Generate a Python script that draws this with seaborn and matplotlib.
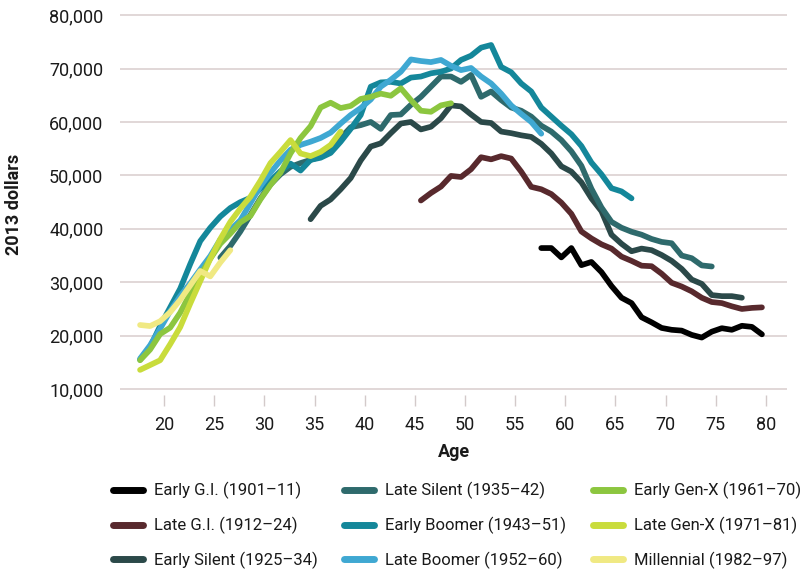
import pandas as pd
import seaborn as sns
import matplotlib.pyplot as plt
import numpy as np
from matplotlib.ticker import FuncFormatter

# Cohort names, colours and the age at which each series starts
cohorts = ['Early G.I. (1901–11)', 'Late G.I. (1912–24)', 'Early Silent (1925–34)',
           'Late Silent (1935–42)', 'Early Boomer (1943–51)', 'Late Boomer (1952–60)',
           'Early Gen-X (1961–70)', 'Late Gen-X (1971–81)', 'Millennial (1982–97)']
colors = ['#000000', '#58292d', '#2b4949', '#2e6a6c', '#14879a',
          '#3fa8d2', '#8cc63f', '#c9dc3c', '#f0e983']
start_ages = [57.6, 45.6, 34.6, 25.6, 17.6, 17.6, 17.6, 17.6, 17.6]

# Median income, 2013 dollars, one value per year of age
early_gi = [36400, 36400, 34650, 36400, 33200, 33800, 31900, 29300, 27100, 26100,
            23450, 22500, 21450, 21100, 20950, 20150, 19650, 20750, 21400, 21100,
            21850, 21650, 20250]
late_gi = [45300, 46700, 47900, 49900, 49700, 51150, 53400, 53000, 53600, 53150,
           50700, 47850, 47400, 46500, 44900, 42800, 39500, 38200, 37100, 36300,
           34800, 34000, 33100, 33000, 31600, 29900, 29200, 28300, 27100, 26300,
           26100, 25500, 25000, 25200, 25300]
early_silent = [41800, 44300, 45500, 47400, 49500, 52800, 55400, 56000, 57900, 59700,
                60000, 58600, 59100, 60700, 63100, 62900, 61400, 60000, 59800, 58200,
                57900, 57500, 57200, 55900, 54100, 51700, 50700, 48700, 45700, 43300,
                38900, 37200, 35800, 36300, 36000, 35100, 34000, 32500, 30500, 29700,
                27600, 27400, 27400, 27100]
late_silent = [34600, 36800, 39500, 42600, 45700, 48300, 50200, 51600, 52300, 52900,
               53500, 54800, 57000, 59000, 59400, 60000, 58700, 61300, 61400, 63200,
               64700, 66600, 68500, 68500, 67500, 68800, 64700, 65700, 64100, 62700,
               62100, 61000, 59300, 58200, 56600, 54500, 51800, 47500, 44000, 41300,
               40200, 39450, 38900, 38100, 37550, 37300, 35000, 34500, 33150, 32950]
early_boomer = [15500, 17900, 21800, 25300, 28800, 33400, 37700, 40200, 42300, 43900,
                45000, 45800, 47500, 49000, 50800, 52200, 50900, 52900, 53300, 54200,
                56300, 58700, 61300, 66600, 67400, 67500, 67200, 68300, 68500, 69100,
                69400, 70000, 71600, 72400, 73900, 74400, 70300, 69300, 67200, 65700,
                62700, 61000, 59300, 57700, 55500, 52400, 50200, 47600, 47000, 45700]
late_boomer = [15700, 18200, 21300, 24600, 27400, 29800, 32400, 34900, 38000, 39800,
               41600, 44800, 48000, 50500, 52800, 54800, 55700, 56300, 57000, 58000,
               59700, 61300, 62600, 64200, 66600, 67900, 69400, 71700, 71400, 71200,
               71600, 70500, 69700, 70100, 68500, 67200, 65300, 63100, 61500, 60000,
               57800]
early_genx = [15400, 17400, 20300, 21500, 24300, 27900, 31300, 34400, 37200, 39100,
              41200, 42400, 45500, 48200, 50500, 54100, 57000, 59200, 62700, 63600,
              62600, 63000, 64300, 64700, 65300, 64900, 66300, 64100, 62100, 61900,
              63100, 63500]
late_genx = [13600, 14500, 15400, 18400, 21600, 26000, 30200, 34400, 38100, 41300,
             43800, 46000, 49000, 52300, 54400, 56600, 54100, 53600, 54400, 55700,
             58200]
millennial = [22000, 21800, 22700, 24400, 26700, 29400, 32100, 31100, 33700, 36000]

series = [early_gi, late_gi, early_silent, late_silent, early_boomer,
          late_boomer, early_genx, late_genx, millennial]

# long table for seaborn
rows = []
for name, start, vals in zip(cohorts, start_ages, series):
    for i, v in enumerate(vals):
        rows.append({'cohort': name, 'age': start + i, 'income': v})
df = pd.DataFrame(rows)

sns.set_theme(style='white')
plt.rcParams['font.family'] = ['Roboto', 'DejaVu Sans']
plt.rcParams['text.color'] = '#1a1a1a'
plt.rcParams['axes.labelcolor'] = '#1a1a1a'
plt.rcParams['xtick.color'] = '#1a1a1a'
plt.rcParams['ytick.color'] = '#1a1a1a'

fig = plt.figure(figsize=(8.09, 5.73), dpi=100)
ax = fig.add_axes([120 / 809, 1 - 395 / 573, 667 / 809, 381 / 573])

sns.lineplot(data=df, x='age', y='income', hue='cohort', hue_order=cohorts,
             palette=colors, linewidth=4.1, sort=False, estimator=None, ax=ax,
             solid_capstyle='round', solid_joinstyle='round')

ax.set_xlim(15.6, 82.1)
ax.set_ylim(8900, 80200)
ax.set_xticks(np.arange(20, 81, 5))
ax.set_yticks(np.arange(10000, 80001, 10000))
ax.yaxis.set_major_formatter(FuncFormatter(lambda v, p: f'{v:,.0f}'))

ax.yaxis.grid(True, color='#dcd1d1', linewidth=1.2)
ax.xaxis.grid(False)
ax.set_axisbelow(True)
for s in ax.spines.values():
    s.set_visible(False)

ax.tick_params(axis='x', which='major', bottom=True, length=8, width=1,
               color='#d3caca', direction='out', pad=7, labelsize=13)
ax.tick_params(axis='y', length=0, pad=12, labelsize=13)

ax.set_xlabel('Age', fontsize=13, fontweight='bold')
ax.set_ylabel('2013 dollars', fontsize=13, fontweight='bold')
ax.xaxis.set_label_coords(0.5, -0.125)
ax.yaxis.set_label_coords(-0.145, 0.5)

handles, labels = ax.get_legend_handles_labels()
ax.get_legend().remove()
for h in handles:
    h.set_linewidth(5)
    h.set_solid_capstyle('round')
fig.legend(handles, labels, ncol=3, loc='upper left',
           bbox_to_anchor=(113 / 809, 1 - 482 / 573), frameon=False,
           fontsize=12, handlelength=1.8, handletextpad=0.65,
           columnspacing=1.6, labelspacing=1.06, borderpad=0, borderaxespad=0)

fig.savefig('out.png', dpi=100)
